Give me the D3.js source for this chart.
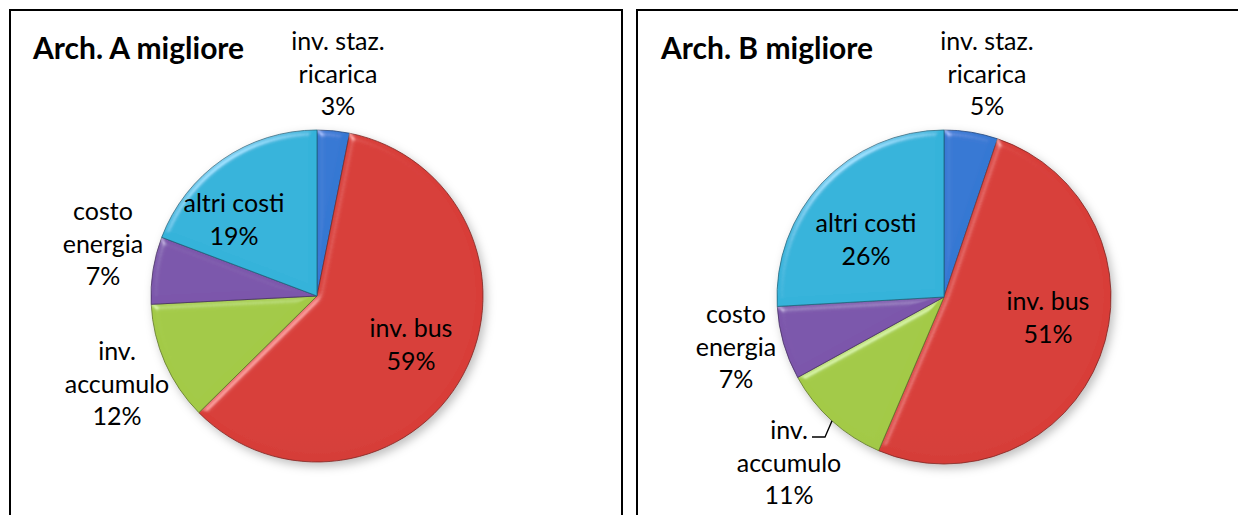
<!DOCTYPE html>
<html>
<head>
<meta charset="utf-8">
<script src="https://cdn.jsdelivr.net/npm/d3@7"></script>
<style>
  body { margin: 0; background: #fff; }
  text { font-family: Lato, "Open Sans", sans-serif; fill: #000; }
</style>
</head>
<body>
<svg id="chart"></svg>
<script>
// dati
const categories = ["inv. staz. ricarica", "inv. bus", "inv. accumulo", "costo energia", "altri costi"];
const labelLines = [["inv. staz.", "ricarica"], ["inv. bus"], ["inv.", "accumulo"], ["costo", "energia"], ["altri costi"]];
const titles = ["Arch. A migliore", "Arch. B migliore"];
const shareA = [3.15, 59.45, 11.6, 6.55, 19.25];
const shareB = [5.2, 51.2, 10.6, 7.1, 25.9];
const colors = ["#3576cf", "#d43d38", "#a0c646", "#7954a8", "#33b0d6"];

const W = 1238, H = 515;
const svg = d3.select("#chart").attr("width", W).attr("height", H);
svg.append("rect").attr("width", W).attr("height", H).attr("fill", "#fff");

const defs = svg.append("defs");

// bevel effect for the slices
const bevel = defs.append("filter").attr("id", "bevel")
  .attr("x", "-5%").attr("y", "-5%").attr("width", "110%").attr("height", "110%");
bevel.append("feGaussianBlur").attr("in", "SourceAlpha").attr("stdDeviation", 3.5).attr("result", "blur");
bevel.append("feSpecularLighting").attr("in", "blur")
  .attr("surfaceScale", 5).attr("specularConstant", 0.7).attr("specularExponent", 24)
  .attr("lighting-color", "#fff").attr("result", "spec")
  .append("feDistantLight").attr("azimuth", 235).attr("elevation", 22);
bevel.append("feComposite").attr("in", "spec").attr("in2", "SourceAlpha")
  .attr("operator", "in").attr("result", "specIn");
bevel.append("feComposite").attr("in", "SourceGraphic").attr("in2", "specIn")
  .attr("operator", "arithmetic").attr("k1", 0).attr("k2", 1).attr("k3", 0.4).attr("k4", 0);

// soft shadow under the pie
const shadow = defs.append("filter").attr("id", "shadow")
  .attr("x", "-20%").attr("y", "-20%").attr("width", "140%").attr("height", "140%");
shadow.append("feDropShadow").attr("dx", 3).attr("dy", 4).attr("stdDeviation", 5)
  .attr("flood-color", "#000").attr("flood-opacity", 0.25);

// layout of the two panels
const panels = [
  { x: 10, w: 612, cx: 317, cy: 296, r: 166, titleX: 33, values: shareA,
    labels: [[21, -246], [94, 41], [-200, 64], [-214, -76], [-83, -84]], leader: false },
  { x: 637, w: 700, cx: 944, cy: 297, r: 167, titleX: 661, values: shareB,
    labels: [[43, -247], [104, 13], [-155, 142], [-208, 26], [-78, -65]], leader: true }
];

const pie = d3.pie().value(d => d).sort(null);
const lineH = 32.5;

panels.forEach((p, pi) => {
  svg.append("rect")
    .attr("x", p.x).attr("y", 10)
    .attr("width", p.w).attr("height", 600)
    .attr("fill", "none").attr("stroke", "#000").attr("stroke-width", 2);

  svg.append("text")
    .attr("x", p.titleX).attr("y", 59)
    .style("font-size", "30px").style("font-weight", "bold")
    .text(titles[pi]);

  const arc = d3.arc().innerRadius(0).outerRadius(p.r);
  const arcs = pie(p.values);

  // gradient per slice: slightly lighter on top, darker at the bottom
  colors.forEach((c, i) => {
    const g = defs.append("linearGradient").attr("id", `grad${pi}_${i}`)
      .attr("gradientUnits", "userSpaceOnUse")
      .attr("x1", 0).attr("y1", p.cy - p.r).attr("x2", 0).attr("y2", p.cy + p.r);
    g.append("stop").attr("offset", "0%").attr("stop-color", d3.color(c).brighter(0.05));
    g.append("stop").attr("offset", "100%").attr("stop-color", d3.color(c).darker(0.35));
  });

  const gPie = svg.append("g")
    .attr("transform", `translate(${p.cx},${p.cy})`)
    .style("filter", "url(#shadow)");

  gPie.selectAll("path")
    .data(arcs)
    .enter()
    .append("path")
    .attr("d", arc)
    .attr("fill", (d, i) => `url(#grad${pi}_${i})`)
    .attr("stroke", (d, i) => d3.color(colors[i]).darker(1.5))
    .attr("stroke-width", 0.8)
    .style("filter", "url(#bevel)");

  // etichette
  arcs.forEach((d, i) => {
    const [dx, dy] = p.labels[i];
    const lines = labelLines[i].concat([Math.round(d.data) + "%"]);
    const t = svg.append("text")
      .attr("text-anchor", "middle")
      .style("font-size", "25px");
    lines.forEach((ln, k) => {
      t.append("tspan")
        .attr("x", p.cx + dx)
        .attr("y", p.cy + dy + k * lineH)
        .text(ln);
    });
  });

  // leader line for inv. accumulo (Arch. B)
  if (p.leader) {
    const i = 2;
    const [ex, ey] = d3.arc().innerRadius(p.r).outerRadius(p.r).centroid(arcs[i]);
    const [dx, dy] = p.labels[i];
    const ly = p.cy + dy - 2;
    svg.append("path")
      .attr("d", d3.line()([[p.cx + dx + 23, ly], [p.cx + ex - 7, ly], [p.cx + ex, p.cy + ey]]))
      .attr("fill", "none").attr("stroke", "#000").attr("stroke-width", 1.3);
  }
});
</script>
</body>
</html>
